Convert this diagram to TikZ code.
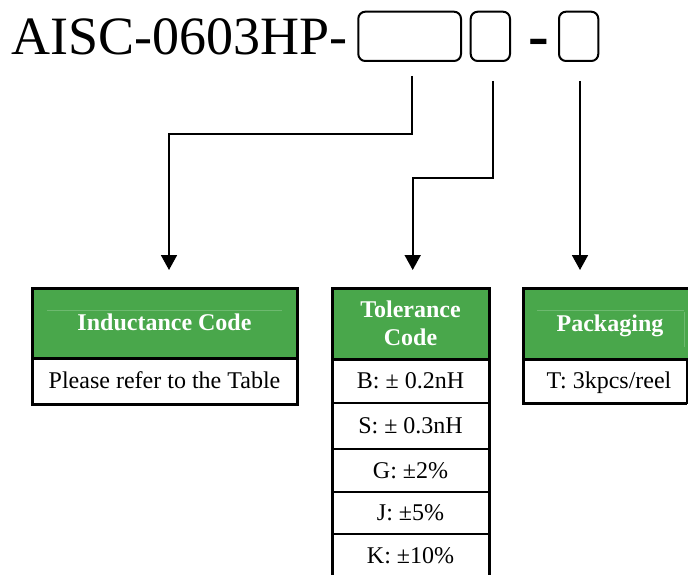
\documentclass[tikz,border=0pt]{standalone}
\usepackage{fontspec}
\setmainfont{Liberation Serif}
\newfontfamily\pmfont{Liberation Serif}[Scale=0.999]
\newcommand{\pmsign}{{\pmfont ±}}
\usetikzlibrary{arrows.meta}
\definecolor{hgreen}{RGB}{73,167,75}
\begin{document}
\begin{tikzpicture}[x=1pt,y=-1pt]
\tikzset{
  txtbase/.style={inner sep=0pt, outer sep=0pt, font=\fontsize{24}{28}\selectfont},
  capt/.style={text height=15.9pt, text depth=0pt},
  hdr/.style={txtbase, draw=black, line width=3pt, fill=hgreen, text=white, font=\bfseries\fontsize{24}{28}\selectfont},
  tcell/.style={txtbase, capt, draw=black, line width=2pt},
  tblframe/.style={draw=black, line width=3pt},
  conn/.style={draw=black, line width=1.8pt, -{Triangle[width=16pt,length=15pt]}},
  slot/.style={draw=black, line width=2pt, rounded corners=7pt, minimum height=49.3pt, inner sep=0pt},
  faint/.style={draw=hgreen!80!white, line width=0.6pt}
}
\useasboundingbox (0,0) rectangle (688,575);
\begin{scope}
\clip (0,0) rectangle (688,575);
% title
\node[anchor=base west, inner sep=0pt, font=\fontsize{54}{54}\selectfont] (title) at (11,55) {AISC-0603HP-};
\node[slot, minimum width=102.7pt] (b1) at (409.65,36.35) {};
\node[slot, minimum width=39.3pt] (b2) at (490.35,36.35) {};
\node[anchor=base, inner sep=0pt, font=\bfseries\fontsize{62}{62}\selectfont] (dash) at (538.85,57) {-};
\node[slot, minimum width=39.3pt] (b3) at (578.65,36.35) {};
% connectors
\coordinate (s1) at (412.3,76);
\coordinate (k1) at (169,134);
\coordinate (e1) at (169,270);
\draw[conn] (s1) |- (k1) -- (e1);
\coordinate (s2) at (492.7,81);
\coordinate (k2) at (412.7,178);
\coordinate (e2) at (412.7,270);
\draw[conn] (s2) |- (k2) -- (e2);
\coordinate (s3) at (580,81);
\coordinate (e3) at (580,270);
\draw[conn] (s3) -- (e3);
% inductance table
\node[hdr, capt, minimum width=265pt, minimum height=70pt] (ih) at (164.5,323) {Inductance Code};
\draw[faint] (47,310) -- (282,310);
\node[tcell, minimum width=265pt, minimum height=46pt] (ir) at (164.5,381) {Please refer to the Table};
\draw[tblframe] (ih.north west) rectangle (ir.south east);
\draw[tblframe] (ih.south west) -- (ih.south east);
% tolerance table
\node[hdr, align=center, minimum width=157pt, minimum height=71pt] (th) at (410.5,323.5) {Tolerance\\Code};
\node[tcell, minimum width=157pt, minimum height=44pt] (tr1) at (410.5,381) {B: \pmsign{} 0.2nH};
\node[tcell, minimum width=157pt, minimum height=46pt] (tr2) at (410.5,426) {S: \pmsign{} 0.3nH};
\node[tcell, minimum width=157pt, minimum height=43pt] (tr3) at (410.5,470.5) {G: \pmsign2\%};
\node[tcell, minimum width=157pt, minimum height=42pt] (tr4) at (410.5,513) {J: \pmsign5\%};
\node[tcell, minimum width=157pt, minimum height=44pt] (tr5) at (410.5,556) {K: \pmsign10\%};
\draw[tblframe] (th.north west) rectangle (tr5.south east);
\draw[tblframe] (th.south west) -- (th.south east);
% packaging table
\node[hdr, capt, minimum width=174pt, minimum height=71pt] (ph) at (610,323.5) {Packaging};
\draw[faint] (537,310) -- (684,310);
\draw[faint] (684,312) -- (684,347);
\node[tcell, minimum width=164pt, minimum height=44pt] (pr) at (605,381) {};
\node[txtbase, capt] (prt) at (609,381) {T: 3kpcs/reel};
\draw[tblframe] (ph.north east) -- (ph.north west) -- (pr.south west) -- (pr.south east);
\draw[tblframe] (ph.south west) -- (ph.south east);
\end{scope}
\end{tikzpicture}
\end{document}
